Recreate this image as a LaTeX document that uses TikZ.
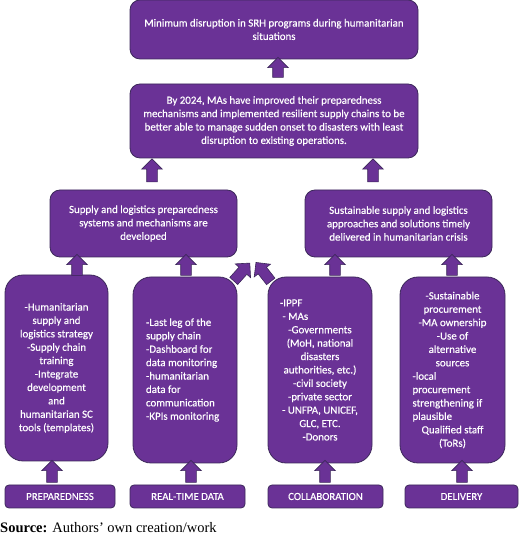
\documentclass[tikz,border=0pt]{standalone}
\usepackage{fontspec}
\setmainfont{Carlito}
\newfontfamily\boxfont[FakeBold=0.4]{Carlito}
\newfontfamily\srcfont{Liberation Serif}
\usetikzlibrary{shapes.arrows}
\definecolor{boxpurple}{RGB}{106,50,150}
\definecolor{boxedge}{RGB}{60,40,90}
\tikzset{
  goalbox/.style={draw=boxedge, fill=boxpurple, line width=0.8pt, rounded corners=10pt,
    text=white, align=center, inner sep=0pt, font=\boxfont\fontsize{10.9}{13.4}\selectfont},
  listbox/.style={goalbox, rounded corners=18pt, minimum width=104pt, minimum height=186pt},
  pillarbox/.style={goalbox, rounded corners=4pt, minimum height=23pt, font=\boxfont\fontsize{10.8}{12}\selectfont},
  blkarrow/.style={single arrow, draw=boxedge, fill=boxpurple, line width=0.6pt,
    minimum width=20pt, single arrow head extend=5pt, inner xsep=0pt, inner ysep=5pt,
    single arrow tip angle=90}
}
\begin{document}
\begin{tikzpicture}[x=1pt, y=1pt]
\useasboundingbox (0,0) rectangle (520,540);
% outcome boxes
\node[goalbox, minimum width=288pt, minimum height=59pt] (goal) at (274,510.5)
  {Minimum disruption in SRH programs during humanitarian\\situations};
\node[goalbox, minimum width=288pt, minimum height=74pt] (outcome) at (274,419)
  {By 2024, MAs have improved their preparedness\\mechanisms and implemented resilient supply chains to be\\better able to manage sudden onset to disasters with least\\disruption to existing operations.};
\node[goalbox, minimum width=187pt, minimum height=67pt] (prepout) at (143.5,316.5)
  {Supply and logistics preparedness\\systems and mechanisms are\\developed};
\node[goalbox, minimum width=187pt, minimum height=67pt] (delout) at (398.5,316.5)
  {Sustainable supply and logistics\\approaches and solutions timely\\delivered in humanitarian crisis};
% lists
\node[listbox, minimum width=103pt] (preplist) at (56.5,172)
  {-Humanitarian\\supply and\\logistics strategy\\-Supply chain\\training\\-Integrate\\development\\and\\humanitarian SC\\tools (templates)};
\node[listbox] (datalist) at (185,170)
  {\makebox[78pt][l]{-Last leg of the}\\\makebox[78pt][l]{supply chain}\\\makebox[78pt][l]{-Dashboard for}\\\makebox[78pt][l]{data monitoring}\\\makebox[78pt][l]{-humanitarian}\\\makebox[78pt][l]{data for}\\\makebox[78pt][l]{communication}\\\makebox[78pt][l]{-KPIs monitoring}};
\node[listbox] (collablist) at (320,170)
  {\makebox[80pt][l]{-IPPF}\\\makebox[80pt][l]{\ - MAs}\\-Governments\\(MoH, national\\disasters\\authorities, etc.)\\-civil society\\-private sector\\- UNFPA, UNICEF,\\GLC, ETC.\\-Donors};
\node[listbox, minimum width=105pt] (dellist) at (452.5,170)
  {-Sustainable\\procurement\\-MA ownership\\-Use of\\alternative\\sources\\\makebox[80pt][l]{-local}\\\makebox[80pt][l]{procurement}\\\makebox[80pt][l]{strengthening if}\\\makebox[80pt][l]{plausible}\\Qualified staff\\(ToRs)};
% pillars
\node[pillarbox, minimum width=110pt] (prep) at (60,43.5) {PREPAREDNESS};
\node[pillarbox, minimum width=115pt] (data) at (187.5,43.5) {REAL-TIME DATA};
\node[pillarbox, minimum width=115pt] (collab) at (325.5,43.5) {COLLABORATION};
\node[pillarbox, minimum width=113pt] (deliv) at (461.5,43.5) {DELIVERY};
% block arrows
\node[blkarrow, minimum height=20pt, rotate=90] (a1) at (278,470) {};
\node[blkarrow, minimum height=23pt, rotate=90] (a2) at (152,367) {};
\node[blkarrow, minimum height=23pt, rotate=90] (a3) at (373,367) {};
\node[blkarrow, minimum height=21pt, rotate=90] (a4) at (77,272.5) {};
\node[blkarrow, minimum height=21pt, rotate=90] (a5) at (186,272.5) {};
\node[blkarrow, minimum height=24pt, rotate=48] (a6) at (240,266) {};
\node[blkarrow, minimum height=24pt, rotate=128] (a7) at (265,266) {};
\node[blkarrow, minimum height=21pt, rotate=90] (a8) at (335,272.5) {};
\node[blkarrow, minimum height=21pt, rotate=90] (a9) at (452,272.5) {};
\node[blkarrow, minimum height=22pt, rotate=90] (a10) at (52,66) {};
\node[blkarrow, minimum height=22pt, rotate=90] (a11) at (191,66) {};
\node[blkarrow, minimum height=22pt, rotate=90] (a12) at (325,66) {};
\node[blkarrow, minimum height=22pt, rotate=90] (a13) at (462,66) {};
% source line
\node[anchor=west, inner sep=0pt, font=\srcfont\fontsize{14.5}{16}\selectfont] (src) at (0,12)
  {\textbf{Source:} Authors’ own creation/work};
\end{tikzpicture}
\end{document}
